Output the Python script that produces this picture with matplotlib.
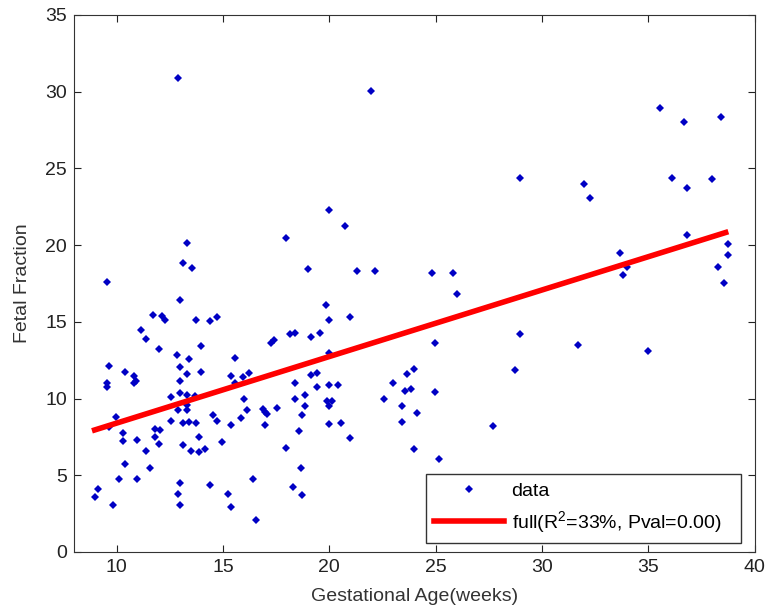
import matplotlib
matplotlib.use('Agg')
import matplotlib.pyplot as plt

# Datos: edad gestacional (semanas) y fraccion fetal
edad_gestacional = [
    13.30, 13.11, 13.55, 9.54, 12.98, 11.70, 12.14, 12.26, 13.74, 14.39, 14.71,
    11.13, 11.38, 12.01, 13.95, 12.86, 13.42, 15.58, 9.66, 12.98, 10.41, 10.82,
    13.30, 13.95, 15.40, 15.95, 9.54, 10.91, 10.82, 12.98, 9.54, 15.58,
    12.98, 13.30, 12.55, 13.70, 15.99, 12.89, 13.30, 13.30, 9.97, 14.52, 14.71,
    15.84, 12.55, 13.11, 13.42, 13.74, 15.40, 9.63, 11.82, 12.04, 10.29, 10.29,
    10.95, 11.82, 12.01, 13.86, 14.96, 13.11, 11.38, 13.52, 13.86, 14.17, 10.41,
    11.57, 10.10, 10.95, 9.13, 9.00, 12.98, 12.89, 12.98, 9.85, 14.39, 15.24,
    15.37,
    19.97, 20.73, 17.97, 19.00, 21.29, 22.14, 19.85, 19.97, 20.98, 18.16, 18.38,
    17.40, 17.28, 19.12, 19.57, 19.97,
    16.24, 19.12, 19.44, 23.67, 18.41, 19.44, 20.00, 20.41, 23.01, 23.54, 18.41,
    18.85, 19.88, 20.13, 20.00, 18.85, 22.57, 23.42, 16.12, 16.87, 16.99, 17.09,
    17.53, 18.72, 23.42, 16.99, 20.00, 20.54, 18.59, 20.98, 17.97, 18.69, 16.43,
    18.28, 18.72, 16.56,
    28.97, 24.83, 25.83, 26.02, 28.97, 24.96, 31.70, 23.98, 28.72, 23.86, 24.96,
    24.11, 27.68, 23.98, 25.14,
    35.54, 36.69, 38.42, 31.96, 32.27, 36.13, 36.82, 37.98, 36.82, 38.73, 38.73,
    33.68, 34.00, 33.81, 38.29, 38.55, 34.97,
    12.87, 21.95,
]
fraccion_fetal = [
    20.12, 18.86, 18.51, 17.60, 16.41, 15.47, 15.36, 15.12, 15.12, 15.04, 15.30,
    14.45, 13.91, 13.25, 13.41, 12.82, 12.58, 12.67, 12.11, 12.06, 11.71, 11.47,
    11.62, 11.71, 11.47, 11.39, 11.04, 11.13, 11.00, 11.13, 10.74, 11.00,
    10.39, 10.26, 10.13, 10.17, 9.99, 9.26, 9.26, 9.60, 8.82, 8.95, 8.56,
    8.74, 8.56, 8.39, 8.47, 8.39, 8.26, 8.13, 8.04, 7.95, 7.74, 7.26,
    7.28, 7.48, 7.04, 7.48, 7.17, 6.96, 6.61, 6.61, 6.52, 6.69, 5.76,
    5.50, 4.74, 4.74, 4.09, 3.61, 4.48, 3.78, 3.04, 3.04, 4.39, 3.78,
    2.95,
    22.27, 21.25, 20.49, 18.43, 18.34, 18.34, 16.12, 15.12, 15.30, 14.19, 14.26,
    13.82, 13.64, 14.04, 14.26, 12.99,
    11.67, 11.56, 11.65, 11.60, 11.04, 10.78, 10.87, 10.87, 11.04, 10.52, 9.95,
    10.21, 9.86, 9.86, 9.52, 9.52, 9.99, 9.52, 9.26, 9.30, 9.13, 9.00,
    9.39, 8.91, 8.50, 8.26, 8.32, 8.43, 7.89, 7.45, 6.76, 5.50, 4.74,
    4.22, 3.70, 2.09,
    24.40, 18.17, 18.17, 16.82, 14.19, 13.60, 13.51, 11.95, 11.89, 10.61, 10.45,
    9.08, 8.21, 6.69, 6.08,
    28.92, 27.99, 28.33, 23.97, 23.06, 24.40, 23.73, 24.32, 20.66, 20.08, 19.38,
    19.47, 18.54, 18.04, 18.54, 17.52, 13.08,
    30.88, 30.01,
]

# Recta del ajuste lineal (extremos)
recta_x = [8.97, 38.63]
recta_y = [7.95, 20.82]
etiqueta_ajuste = r'full(R$^2$=33%, Pval=0.00)'


def generar_grafico():
    plt.rcParams['font.family'] = ['Liberation Sans', 'DejaVu Sans']
    plt.rcParams['mathtext.fontset'] = 'custom'
    plt.rcParams['mathtext.rm'] = 'Liberation Sans'
    plt.rcParams['mathtext.it'] = 'Liberation Sans'

    fig = plt.figure(figsize=(7.71, 6.11), dpi=100)
    ax = fig.add_axes([0.096, 0.0966, 0.883, 0.879])

    # Puntos y recta
    ax.plot(edad_gestacional, fraccion_fetal, 'D', color='#0000c4',
            markersize=4.0, markeredgewidth=0, label='data')
    ax.plot(recta_x, recta_y, color='red', linewidth=4.0, label=etiqueta_ajuste)

    ax.set_xlim(8, 40)
    ax.set_ylim(0, 35)
    ax.set_xticks([10, 15, 20, 25, 30, 35, 40])
    ax.set_yticks([0, 5, 10, 15, 20, 25, 30, 35])
    ax.tick_params(direction='in', top=True, right=True, length=5,
                   labelsize=14, width=0.8, pad=5, colors='#222222')
    for lado in ax.spines.values():
        lado.set_color('#333333')

    # Etiquetas
    ax.set_xlabel('Gestational Age(weeks)', fontsize=14, color='#333333',
                  labelpad=9)
    ax.set_ylabel('Fetal Fraction', fontsize=14, color='#333333', labelpad=10)

    # Leyenda
    leg = ax.legend(loc='lower left', bbox_to_anchor=(0.517, 0.0168, 0.463, 0.132),
                    mode='expand', fontsize=14, handlelength=3.6,
                    handletextpad=0.4, borderaxespad=0, fancybox=False,
                    edgecolor='#333333', framealpha=1)
    leg.get_frame().set_linewidth(1.0)

    fig.savefig('out.png', dpi=100, facecolor='white')


if __name__ == "__main__":
    generar_grafico()
